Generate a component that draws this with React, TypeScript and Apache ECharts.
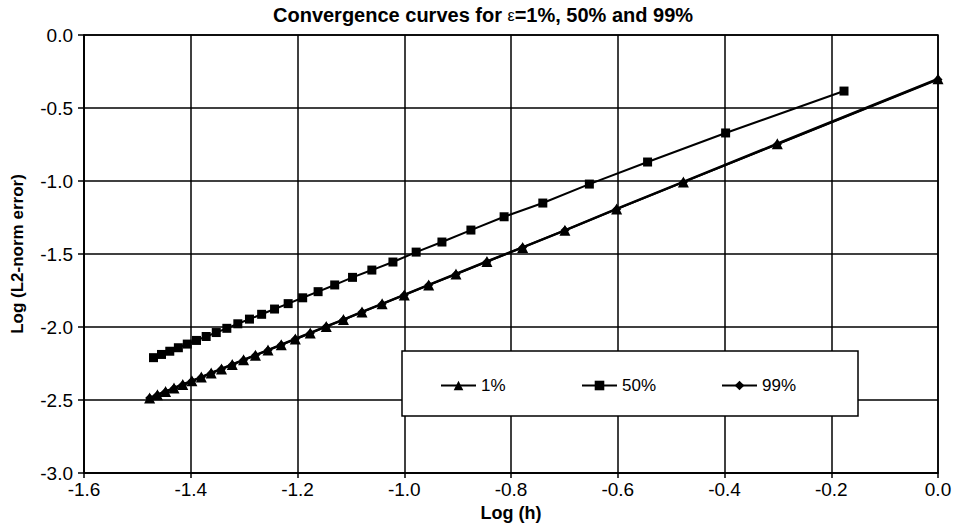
import React, { useEffect, useRef } from "react";
import * as echarts from "echarts";

// Log(h) for h = 1/n, n = 1..30 (1% and 99% series)
const xFine: number[] = [
  0, -0.301, -0.4771, -0.6021, -0.699, -0.7782, -0.8451, -0.9031, -0.9542, -1.0,
  -1.0414, -1.0792, -1.1139, -1.1461, -1.1761, -1.2041, -1.2304, -1.2553, -1.2788, -1.301,
  -1.3222, -1.3424, -1.3617, -1.3802, -1.3979, -1.415, -1.4314, -1.4472, -1.4624, -1.4771,
];
const y1pct: number[] = [
  -0.3, -0.745, -1.006, -1.191, -1.338, -1.455, -1.551, -1.637, -1.712, -1.78,
  -1.841, -1.897, -1.949, -1.996, -2.041, -2.082, -2.121, -2.158, -2.193, -2.225,
  -2.257, -2.287, -2.315, -2.343, -2.369, -2.394, -2.418, -2.442, -2.464, -2.486,
];
const y99pct: number[] = [
  -0.305, -0.748, -1.008, -1.193, -1.338, -1.455, -1.553, -1.638, -1.713, -1.781,
  -1.842, -1.898, -1.95, -1.997, -2.042, -2.083, -2.122, -2.159, -2.194, -2.226,
  -2.258, -2.288, -2.316, -2.344, -2.37, -2.395, -2.419, -2.443, -2.465, -2.487,
];
// Log(h) for h = 1/(n+0.5), n = 1..29 (50% series)
const xHalf: number[] = [
  -0.1761, -0.3979, -0.5441, -0.6532, -0.7404, -0.8129, -0.8751, -0.9294, -0.9777, -1.0212,
  -1.0607, -1.0969, -1.1303, -1.1614, -1.1903, -1.2175, -1.243, -1.2672, -1.29, -1.3118,
  -1.3324, -1.3522, -1.3711, -1.3892, -1.4065, -1.4232, -1.4393, -1.4548, -1.4698,
];
const y50pct: number[] = [
  -0.384, -0.671, -0.87, -1.021, -1.151, -1.245, -1.336, -1.418, -1.487, -1.555,
  -1.61, -1.66, -1.712, -1.758, -1.8, -1.84, -1.877, -1.913, -1.946, -1.978,
  -2.009, -2.038, -2.065, -2.092, -2.117, -2.142, -2.166, -2.188, -2.21,
];
const seriesNames = ["1%", "50%", "99%"];

const FONT = "'Liberation Sans', Arial, Helvetica, sans-serif";

export default function App() {
  const ref = useRef<HTMLDivElement>(null);
  useEffect(() => {
    if (!ref.current) return;
    const chart = echarts.init(ref.current, undefined, { renderer: "svg" });
    const pairs = (xs: number[], ys: number[]) => xs.map((x, i) => [x, ys[i]]);
    const legendBase = {
      orient: "horizontal" as const,
      top: 377,
      padding: 0,
      itemWidth: 35,
      itemHeight: 12,
      itemGap: 5,
      textStyle: { fontFamily: FONT, fontSize: 17, color: "#000" },
      selectedMode: false,
      z: 6,
    };
    chart.setOption({
      animation: false,
      backgroundColor: "#fff",
      textStyle: { fontFamily: FONT },
      title: {
        text: "Convergence curves for {e|ε}=1%, 50% and 99%",
        left: 273,
        top: 5,
        padding: 0,
        textStyle: {
          fontFamily: FONT,
          fontSize: 20,
          fontWeight: "bold",
          color: "#000",
          rich: {
            e: { fontFamily: FONT, fontSize: 16, fontWeight: "normal", color: "#000" },
          },
        },
      },
      grid: {
        left: 84,
        right: 19,
        top: 35,
        bottom: 59,
        show: true,
        borderColor: "#000",
        borderWidth: 1.5,
        backgroundColor: "#fff",
      },
      xAxis: {
        type: "value",
        min: -1.6,
        max: 0,
        interval: 0.2,
        name: "Log (h)",
        nameLocation: "middle",
        nameGap: 31,
        nameTextStyle: { fontFamily: FONT, fontSize: 18, fontWeight: "bold", color: "#000" },
        axisLine: { show: true, onZero: false, lineStyle: { color: "#000", width: 1.5 } },
        axisTick: { show: true, inside: false, length: 5, lineStyle: { color: "#000", width: 1.5 } },
        axisLabel: {
          fontFamily: FONT,
          fontSize: 19,
          color: "#000",
          margin: 7,
          formatter: (v: number) => v.toFixed(1),
        },
        splitLine: { show: true, lineStyle: { color: "#000", width: 1.5 } },
      },
      yAxis: {
        type: "value",
        min: -3,
        max: 0,
        interval: 0.5,
        name: "Log (L2-norm error)",
        nameLocation: "middle",
        nameGap: 58,
        nameTextStyle: { fontFamily: FONT, fontSize: 17, fontWeight: "bold", color: "#000" },
        axisLine: { show: true, onZero: false, lineStyle: { color: "#000", width: 1.5 } },
        axisTick: { show: true, inside: false, length: 6, lineStyle: { color: "#000", width: 1.5 } },
        axisLabel: {
          fontFamily: FONT,
          fontSize: 19,
          color: "#000",
          margin: 11,
          formatter: (v: number) => v.toFixed(1),
        },
        splitLine: { show: true, lineStyle: { color: "#000", width: 1.5 } },
      },
      legend: [
        { ...legendBase, left: 440, data: [seriesNames[0]] },
        { ...legendBase, left: 581, data: [seriesNames[1]] },
        { ...legendBase, left: 721, data: [seriesNames[2]] },
      ],
      graphic: [
        {
          type: "rect",
          z: 5,
          shape: { x: 402, y: 351, width: 456, height: 65 },
          style: { fill: "#fff", stroke: "#000", lineWidth: 1.5 },
        },
      ],
      series: [
        {
          name: seriesNames[0],
          type: "line",
          data: pairs(xFine, y1pct),
          symbol: "triangle",
          symbolSize: 11,
          lineStyle: { color: "#000", width: 2.5 },
          itemStyle: { color: "#000" },
          z: 3,
        },
        {
          name: seriesNames[1],
          type: "line",
          data: pairs(xHalf, y50pct),
          symbol: "rect",
          symbolSize: 9,
          lineStyle: { color: "#000", width: 2 },
          itemStyle: { color: "#000" },
          z: 3,
        },
        {
          name: seriesNames[2],
          type: "line",
          data: pairs(xFine, y99pct),
          symbol: "diamond",
          symbolSize: 9,
          lineStyle: { color: "#000", width: 2 },
          itemStyle: { color: "#000" },
          z: 3,
        },
      ],
    });
    return () => chart.dispose();
  }, []);
  return (
    <div
      ref={ref}
      style={{ position: "fixed", left: 0, top: 0, width: 957, height: 532, background: "#fff" }}
    />
  );
}
